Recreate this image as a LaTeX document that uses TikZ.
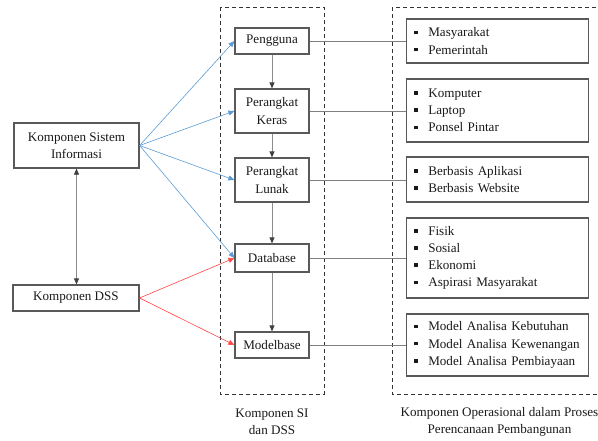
\documentclass[tikz,border=0pt]{standalone}
\usepackage{fontspec}
\setmainfont{Liberation Serif}
\usepackage{xcolor}
\usetikzlibrary{arrows.meta,positioning}

\definecolor{siblue}{RGB}{91,155,213}
\definecolor{dssred}{RGB}{255,70,70}
\newcommand{\blt}{\makebox[14.2pt][l]{\rule[2.7pt]{3.6pt}{3.6pt}}}

\begin{document}
\begin{tikzpicture}[
    x=1pt, y=-1pt,
    font=\fontsize{13.1}{17.2}\selectfont,
    kbox/.style={draw=black!65, line width=1.2pt, text=black!90, align=center, inner sep=2pt},
    lbox/.style={draw=black!65, line width=1.2pt, text=black!90, anchor=west, text width=167pt, inner xsep=7.5pt, align=left},
    grp/.style={draw=black!80, line width=0.8pt, dash pattern=on 4pt off 3pt},
    arr/.style={-{Triangle[length=6pt, width=5pt]}, line width=0.6pt},
    varr/.style={-{Triangle[length=6pt, width=5pt, color=black!75]}, line width=0.7pt, draw=black!45},
    link/.style={line width=0.7pt, draw=black!50}
  ]
    \useasboundingbox (0,0) rectangle (598,440);
    % groups
    \draw[grp] (220,7) rectangle (324,394);
    \draw[grp] (392,7) rectangle (604,394);
    \node[text=black!90, align=center] (silabel) at (272,422) {Komponen SI\\dan DSS};
    \node[text=black!90, align=center] (oplabel) at (499.5,422) {Komponen Operasional dalam Proses\\Perencanaan Pembangunan};
    % left
    \node[kbox, minimum width=125pt, minimum height=45pt] (ksi) at (76.5,145.5) {Komponen Sistem\\Informasi};
    \node[kbox, minimum width=126pt, minimum height=26pt] (dss) at (76,298) {Komponen DSS};
    % middle
    \node[kbox, minimum width=74pt, minimum height=26pt] (pengguna) at (272,41) {Pengguna};
    \node[kbox, minimum width=74pt, minimum height=44pt] (keras) at (272,111) {Perangkat\\Keras};
    \node[kbox, minimum width=74pt, minimum height=44pt] (lunak) at (272,180) {Perangkat\\Lunak};
    \node[kbox, minimum width=74pt, minimum height=28pt] (database) at (272,258) {Database};
    \node[kbox, minimum width=74pt, minimum height=26pt] (modelbase) at (272,345) {Modelbase};
    % right
    \node[lbox, minimum height=44pt] (lpengguna) at (406,41) {\blt Masyarakat\\\blt Pemerintah};
    \node[lbox, minimum height=63pt] (lkeras) at (406,110.5) {\blt Komputer\\\blt Laptop\\\blt Ponsel Pintar};
    \node[lbox, minimum height=45pt] (llunak) at (406,179.5) {\blt Berbasis Aplikasi\\\blt Berbasis Website};
    \node[lbox, minimum height=80pt] (ldatabase) at (406,258) {\blt Fisik\\\blt Sosial\\\blt Ekonomi\\\blt Aspirasi Masyarakat};
    \node[lbox, minimum height=62pt] (lmodelbase) at (406,345) {\blt Model Analisa Kebutuhan\\\blt Model Analisa Kewenangan\\\blt Model Analisa Pembiayaan};
    % connectors
    \draw[arr, draw=siblue, color=siblue] (ksi.east) -- (pengguna.west);
    \draw[arr, draw=siblue, color=siblue] (ksi.east) -- (keras.west);
    \draw[arr, draw=siblue, color=siblue] (ksi.east) -- (lunak.west);
    \draw[arr, draw=siblue, color=siblue] (ksi.east) -- (database.west);
    \draw[arr, color=dssred] (dss.east) -- (database.west);
    \draw[arr, color=dssred] (dss.east) -- (modelbase.west);
    \draw[varr, {Triangle[length=6pt, width=5pt, color=black!75]}-{Triangle[length=6pt, width=5pt, color=black!75]}] (ksi.south) -- (ksi.south |- dss.north);
    \draw[varr] (pengguna) -- (keras);
    \draw[varr] (keras) -- (lunak);
    \draw[varr] (lunak) -- (database);
    \draw[varr] (database) -- (modelbase);
    \draw[link] (pengguna.east) -- (lpengguna.west);
    \draw[link] (keras.east) -- (keras.east -| lkeras.west);
    \draw[link] (lunak.east) -- (lunak.east -| llunak.west);
    \draw[link] (database.east) -- (ldatabase.west);
    \draw[link] (modelbase.east) -- (lmodelbase.west);
  \end{tikzpicture}
\end{document}
